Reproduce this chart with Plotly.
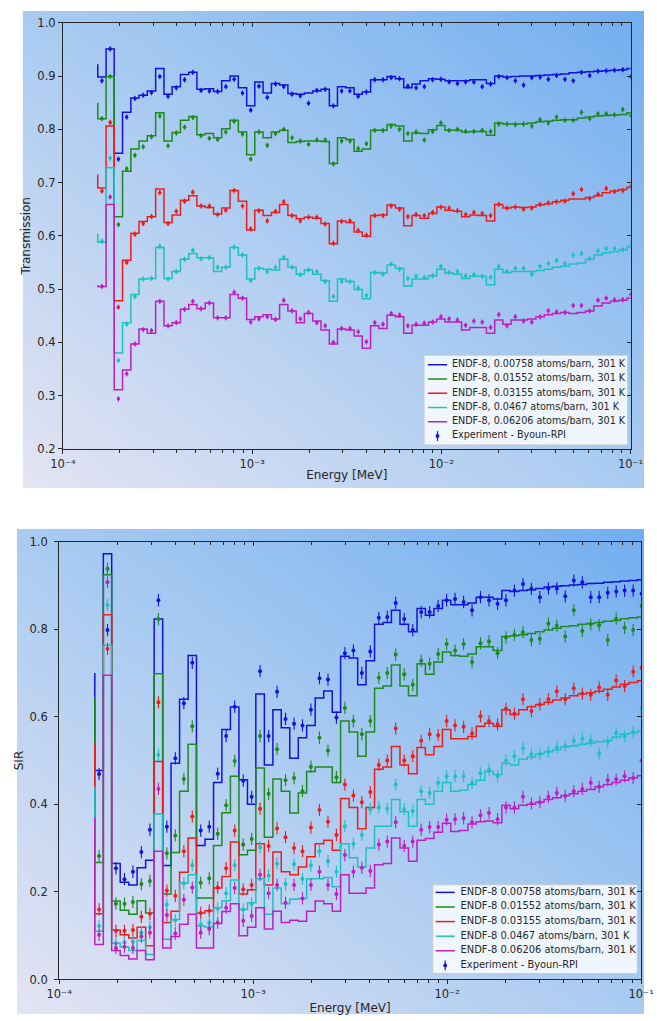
import base64
import plotly.graph_objects as go

W, H = 657, 1021

# ---------------- data ----------------
# bin edges of the energy grid (log10 of MeV), shared by both panels
edges_log = [-3.816, -3.772, -3.729, -3.685, -3.641, -3.598, -3.554, -3.510, -3.466, -3.423,
             -3.379, -3.335, -3.292, -3.248, -3.204, -3.161, -3.117, -3.073, -3.029, -2.986,
             -2.942, -2.898, -2.855, -2.811, -2.767, -2.724, -2.680, -2.636, -2.592, -2.549,
             -2.505, -2.461, -2.418, -2.374, -2.330, -2.287, -2.243, -2.199, -2.155, -2.112,
             -2.068, -2.024, -1.981, -1.937, -1.893, -1.850, -1.806, -1.762, -1.718, -1.675,
             -1.631, -1.587, -1.544, -1.500, -1.456, -1.413, -1.369, -1.325, -1.281, -1.238,
             -1.194, -1.150, -1.107, -1.063, -1.019, -0.976]

labels_T = ["ENDF-8, 0.00758 atoms/barn, 301 K", "ENDF-8, 0.01552 atoms/barn, 301 K",
            "ENDF-8, 0.03155 atoms/barn, 301 K", "ENDF-8, 0.0467 atoms/barn, 301 K",
            "ENDF-8, 0.06206 atoms/barn, 301 K"]
labels_S = ["ENDF-8 0.00758 atoms/barn, 301 K", "ENDF-8 0.01552 atoms/barn, 301 K",
            "ENDF-8 0.03155 atoms/barn, 301 K", "ENDF-8 0.0467 atoms/barn, 301 K",
            "ENDF-8 0.06206 atoms/barn, 301 K"]
exp_label = "Experiment - Byoun-RPI"

# ---- Transmission panel ----
hook_T = [0.922, 0.850, 0.715, 0.604, 0.507]
blue_T_line = [0.898, 0.951, 0.755, 0.832, 0.859, 0.864, 0.872, 0.914, 0.866, 0.880,
               0.903, 0.907, 0.875, 0.876, 0.871, 0.891, 0.900, 0.878, 0.844, 0.889,
               0.868, 0.886, 0.883, 0.867, 0.866, 0.868, 0.872, 0.875, 0.844, 0.880,
               0.878, 0.866, 0.870, 0.893, 0.893, 0.899, 0.895, 0.878, 0.885, 0.891,
               0.895, 0.894, 0.891, 0.891, 0.891, 0.893, 0.893, 0.886, 0.900, 0.898,
               0.899, 0.900, 0.900, 0.901, 0.902, 0.903, 0.904, 0.906, 0.907, 0.908,
               0.909, 0.910, 0.911, 0.912, 0.914]
blue_T_pts = [0.891, 0.951, 0.744, 0.823, 0.858, 0.864, 0.869, 0.899, 0.862, 0.878,
              0.893, 0.907, 0.873, 0.872, 0.871, 0.880, 0.894, 0.868, 0.836, 0.881,
              0.860, 0.885, 0.880, 0.866, 0.863, 0.849, 0.873, 0.875, 0.844, 0.872,
              0.872, 0.862, 0.870, 0.893, 0.893, 0.897, 0.895, 0.881, 0.878, 0.880,
              0.893, 0.894, 0.889, 0.886, 0.889, 0.889, 0.880, 0.885, 0.899, 0.897,
              0.891, 0.883, 0.897, 0.898, 0.894, 0.901, 0.894, 0.891, 0.907, 0.901,
              0.909, 0.910, 0.911, 0.912, 0.899]
green_T_line = [0.820, 0.899, 0.636, 0.721, 0.763, 0.778, 0.788, 0.831, 0.778, 0.794,
                0.817, 0.824, 0.790, 0.792, 0.784, 0.801, 0.817, 0.795, 0.752, 0.795,
                0.784, 0.795, 0.798, 0.775, 0.777, 0.778, 0.778, 0.777, 0.736, 0.784,
                0.781, 0.759, 0.763, 0.798, 0.798, 0.809, 0.806, 0.778, 0.793, 0.792,
                0.799, 0.807, 0.798, 0.798, 0.795, 0.796, 0.796, 0.789, 0.812, 0.810,
                0.810, 0.810, 0.812, 0.814, 0.815, 0.817, 0.818, 0.818, 0.821, 0.823,
                0.825, 0.826, 0.827, 0.828, 0.831]
green_T_pts = [0.820, 0.899, 0.621, 0.726, 0.751, 0.767, 0.786, 0.825, 0.769, 0.793,
               0.804, 0.822, 0.788, 0.783, 0.781, 0.795, 0.815, 0.791, 0.744, 0.795,
               0.770, 0.792, 0.800, 0.784, 0.778, 0.772, 0.780, 0.780, 0.735, 0.778,
               0.778, 0.764, 0.773, 0.798, 0.798, 0.806, 0.800, 0.792, 0.795, 0.780,
               0.796, 0.812, 0.798, 0.800, 0.796, 0.796, 0.798, 0.796, 0.810, 0.810,
               0.809, 0.810, 0.806, 0.818, 0.812, 0.823, 0.817, 0.817, 0.832, 0.820,
               0.829, 0.829, 0.827, 0.837, 0.826]
red_T_line = [0.690, 0.806, 0.478, 0.554, 0.605, 0.627, 0.636, 0.688, 0.625, 0.639,
              0.667, 0.675, 0.656, 0.653, 0.641, 0.652, 0.685, 0.665, 0.611, 0.648,
              0.638, 0.644, 0.659, 0.638, 0.632, 0.635, 0.633, 0.623, 0.585, 0.628,
              0.625, 0.607, 0.599, 0.638, 0.639, 0.658, 0.652, 0.619, 0.638, 0.633,
              0.642, 0.654, 0.648, 0.646, 0.636, 0.639, 0.638, 0.628, 0.659, 0.652,
              0.654, 0.653, 0.654, 0.658, 0.660, 0.664, 0.667, 0.669, 0.669, 0.672,
              0.675, 0.681, 0.684, 0.687, 0.691]
red_T_pts = [0.684, 0.813, 0.466, 0.550, 0.603, 0.623, 0.636, 0.681, 0.623, 0.646,
             0.665, 0.682, 0.656, 0.656, 0.640, 0.648, 0.685, 0.656, 0.613, 0.647,
             0.628, 0.646, 0.664, 0.638, 0.628, 0.635, 0.635, 0.622, 0.586, 0.627,
             0.628, 0.610, 0.601, 0.638, 0.638, 0.656, 0.650, 0.636, 0.640, 0.638,
             0.644, 0.654, 0.652, 0.647, 0.640, 0.644, 0.642, 0.638, 0.659, 0.652,
             0.654, 0.650, 0.652, 0.659, 0.662, 0.664, 0.665, 0.679, 0.687, 0.670,
             0.678, 0.689, 0.683, 0.685, 0.693]
cyan_T_line = [0.588, 0.728, 0.380, 0.437, 0.490, 0.519, 0.520, 0.578, 0.520, 0.533,
               0.556, 0.567, 0.559, 0.559, 0.533, 0.541, 0.578, 0.564, 0.519, 0.539,
               0.537, 0.536, 0.556, 0.541, 0.528, 0.536, 0.528, 0.516, 0.477, 0.519,
               0.514, 0.499, 0.482, 0.531, 0.530, 0.545, 0.539, 0.506, 0.519, 0.519,
               0.525, 0.537, 0.530, 0.528, 0.520, 0.524, 0.524, 0.508, 0.537, 0.531,
               0.533, 0.533, 0.533, 0.535, 0.537, 0.541, 0.543, 0.547, 0.549, 0.556,
               0.564, 0.568, 0.570, 0.574, 0.579]
cyan_T_pts = [0.590, 0.746, 0.366, 0.434, 0.486, 0.519, 0.520, 0.580, 0.519, 0.533,
              0.556, 0.573, 0.557, 0.559, 0.541, 0.541, 0.579, 0.564, 0.516, 0.539,
              0.533, 0.541, 0.559, 0.541, 0.527, 0.536, 0.533, 0.514, 0.486, 0.514,
              0.514, 0.502, 0.488, 0.531, 0.528, 0.547, 0.537, 0.520, 0.524, 0.522,
              0.525, 0.543, 0.531, 0.533, 0.525, 0.527, 0.524, 0.522, 0.543, 0.533,
              0.539, 0.539, 0.528, 0.543, 0.548, 0.554, 0.548, 0.564, 0.567, 0.557,
              0.572, 0.576, 0.576, 0.574, 0.582]
magenta_T_line = [0.505, 0.659, 0.311, 0.348, 0.397, 0.425, 0.417, 0.477, 0.431, 0.437,
                  0.462, 0.471, 0.463, 0.474, 0.446, 0.446, 0.490, 0.483, 0.443, 0.448,
                  0.452, 0.444, 0.471, 0.459, 0.437, 0.454, 0.440, 0.423, 0.397, 0.425,
                  0.423, 0.412, 0.389, 0.431, 0.426, 0.451, 0.448, 0.417, 0.432, 0.432,
                  0.438, 0.444, 0.438, 0.438, 0.423, 0.428, 0.428, 0.417, 0.442, 0.434,
                  0.442, 0.442, 0.444, 0.448, 0.452, 0.454, 0.456, 0.454, 0.456, 0.459,
                  0.468, 0.474, 0.477, 0.479, 0.483]
magenta_T_pts = [0.505, 0.673, 0.294, 0.341, 0.397, 0.424, 0.422, 0.477, 0.431, 0.437,
                 0.462, 0.477, 0.463, 0.474, 0.446, 0.446, 0.494, 0.483, 0.438, 0.444,
                 0.448, 0.443, 0.479, 0.459, 0.444, 0.456, 0.437, 0.431, 0.400, 0.426,
                 0.426, 0.420, 0.401, 0.437, 0.434, 0.454, 0.451, 0.431, 0.434, 0.436,
                 0.438, 0.448, 0.444, 0.442, 0.432, 0.440, 0.438, 0.428, 0.452, 0.431,
                 0.448, 0.440, 0.438, 0.448, 0.459, 0.457, 0.456, 0.469, 0.469, 0.459,
                 0.479, 0.483, 0.480, 0.480, 0.490]

# ---- SIR panel ----
hook_S = [0.700, 0.645, 0.540, 0.440, 0.370]
blue_S_line = [0.477, 0.972, 0.265, 0.222, 0.216, 0.255, 0.272, 0.823, 0.260, 0.494,
               0.640, 0.740, 0.306, 0.320, 0.450, 0.571, 0.622, 0.456, 0.400, 0.652,
               0.490, 0.616, 0.575, 0.505, 0.552, 0.580, 0.643, 0.659, 0.610, 0.738,
               0.734, 0.673, 0.728, 0.811, 0.815, 0.843, 0.811, 0.794, 0.847, 0.832,
               0.847, 0.866, 0.856, 0.856, 0.860, 0.873, 0.873, 0.869, 0.888, 0.886,
               0.888, 0.890, 0.893, 0.896, 0.898, 0.899, 0.901, 0.902, 0.904, 0.905,
               0.907, 0.908, 0.910, 0.911, 0.913]
blue_S_pts = [0.469, 0.798, 0.254, 0.229, 0.246, 0.291, 0.342, 0.866, 0.349, 0.505,
              0.631, 0.723, 0.340, 0.349, 0.470, 0.556, 0.623, 0.454, 0.417, 0.704,
              0.556, 0.657, 0.595, 0.584, 0.580, 0.616, 0.688, 0.685, 0.598, 0.745,
              0.751, 0.700, 0.749, 0.826, 0.828, 0.860, 0.823, 0.798, 0.839, 0.839,
              0.853, 0.866, 0.869, 0.862, 0.843, 0.873, 0.866, 0.858, 0.866, 0.888,
              0.903, 0.892, 0.873, 0.893, 0.893, 0.875, 0.911, 0.907, 0.873, 0.873,
              0.883, 0.886, 0.888, 0.888, 0.881]
green_S_line = [0.267, 0.924, 0.179, 0.158, 0.149, 0.180, 0.152, 0.698, 0.195, 0.290,
                0.430, 0.537, 0.186, 0.186, 0.306, 0.381, 0.464, 0.285, 0.295, 0.483,
                0.325, 0.458, 0.430, 0.380, 0.426, 0.475, 0.485, 0.485, 0.450, 0.590,
                0.565, 0.510, 0.565, 0.665, 0.670, 0.718, 0.670, 0.648, 0.721, 0.697,
                0.725, 0.748, 0.740, 0.738, 0.743, 0.760, 0.760, 0.751, 0.783, 0.785,
                0.787, 0.790, 0.794, 0.798, 0.802, 0.806, 0.808, 0.811, 0.813, 0.815,
                0.818, 0.820, 0.824, 0.826, 0.828]
green_S_pts = [0.282, 0.938, 0.173, 0.173, 0.177, 0.218, 0.225, 0.823, 0.288, 0.329,
               0.458, 0.578, 0.221, 0.231, 0.333, 0.398, 0.499, 0.308, 0.321, 0.556,
               0.424, 0.526, 0.455, 0.460, 0.430, 0.486, 0.552, 0.523, 0.462, 0.620,
               0.590, 0.560, 0.590, 0.689, 0.700, 0.742, 0.697, 0.673, 0.728, 0.721,
               0.743, 0.766, 0.751, 0.766, 0.725, 0.768, 0.772, 0.745, 0.781, 0.787,
               0.793, 0.775, 0.778, 0.813, 0.808, 0.783, 0.843, 0.796, 0.811, 0.809,
               0.775, 0.824, 0.803, 0.798, 0.853]
red_S_line = [0.150, 0.833, 0.113, 0.102, 0.095, 0.119, 0.077, 0.498, 0.130, 0.156,
              0.245, 0.323, 0.152, 0.157, 0.209, 0.235, 0.314, 0.195, 0.205, 0.310,
              0.216, 0.291, 0.246, 0.239, 0.257, 0.280, 0.310, 0.318, 0.295, 0.413,
              0.393, 0.344, 0.393, 0.480, 0.485, 0.532, 0.490, 0.470, 0.530, 0.513,
              0.532, 0.571, 0.550, 0.550, 0.555, 0.578, 0.585, 0.578, 0.616, 0.605,
              0.616, 0.623, 0.628, 0.633, 0.638, 0.643, 0.648, 0.652, 0.655, 0.658,
              0.663, 0.668, 0.674, 0.678, 0.682]
red_S_pts = [0.160, 0.755, 0.111, 0.111, 0.113, 0.143, 0.150, 0.633, 0.203, 0.191,
             0.293, 0.372, 0.152, 0.157, 0.210, 0.254, 0.340, 0.206, 0.216, 0.390,
             0.305, 0.345, 0.325, 0.300, 0.293, 0.347, 0.387, 0.360, 0.330, 0.445,
             0.420, 0.405, 0.428, 0.490, 0.500, 0.573, 0.500, 0.510, 0.545, 0.560,
             0.558, 0.590, 0.580, 0.577, 0.562, 0.601, 0.590, 0.583, 0.618, 0.607,
             0.640, 0.613, 0.628, 0.640, 0.658, 0.640, 0.665, 0.653, 0.650, 0.667,
             0.650, 0.683, 0.670, 0.703, 0.712]
cyan_S_line = [0.110, 0.763, 0.083, 0.074, 0.066, 0.089, 0.057, 0.378, 0.092, 0.137,
               0.220, 0.239, 0.122, 0.120, 0.164, 0.180, 0.227, 0.160, 0.175, 0.230,
               0.149, 0.209, 0.173, 0.183, 0.185, 0.230, 0.230, 0.233, 0.212, 0.310,
               0.278, 0.257, 0.300, 0.350, 0.350, 0.411, 0.383, 0.350, 0.411, 0.400,
               0.430, 0.450, 0.430, 0.432, 0.445, 0.455, 0.475, 0.468, 0.494, 0.490,
               0.503, 0.508, 0.515, 0.520, 0.524, 0.531, 0.533, 0.537, 0.540, 0.543,
               0.546, 0.554, 0.560, 0.563, 0.567]
cyan_S_pts = [0.122, 0.855, 0.083, 0.085, 0.087, 0.107, 0.120, 0.513, 0.171, 0.135,
              0.220, 0.261, 0.126, 0.130, 0.162, 0.197, 0.261, 0.160, 0.173, 0.302,
              0.237, 0.265, 0.218, 0.263, 0.230, 0.260, 0.293, 0.270, 0.246, 0.350,
              0.310, 0.330, 0.389, 0.393, 0.390, 0.445, 0.389, 0.385, 0.430, 0.426,
              0.449, 0.464, 0.464, 0.464, 0.449, 0.471, 0.479, 0.464, 0.500, 0.510,
              0.528, 0.515, 0.515, 0.520, 0.530, 0.533, 0.545, 0.550, 0.546, 0.516,
              0.543, 0.563, 0.555, 0.565, 0.618]
magenta_S_line = [0.080, 0.695, 0.066, 0.055, 0.047, 0.066, 0.045, 0.293, 0.072, 0.098,
                  0.126, 0.149, 0.072, 0.072, 0.128, 0.155, 0.173, 0.100, 0.119, 0.164,
                  0.115, 0.156, 0.130, 0.135, 0.133, 0.156, 0.179, 0.173, 0.156, 0.239,
                  0.197, 0.197, 0.209, 0.262, 0.265, 0.323, 0.300, 0.270, 0.318, 0.322,
                  0.336, 0.357, 0.338, 0.340, 0.355, 0.360, 0.362, 0.358, 0.398, 0.390,
                  0.398, 0.400, 0.405, 0.411, 0.415, 0.420, 0.424, 0.430, 0.434, 0.440,
                  0.445, 0.450, 0.455, 0.460, 0.465]
magenta_S_pts = [0.102, 0.907, 0.072, 0.075, 0.072, 0.098, 0.107, 0.435, 0.147, 0.105,
                 0.182, 0.210, 0.107, 0.115, 0.130, 0.164, 0.209, 0.134, 0.145, 0.239,
                 0.197, 0.216, 0.175, 0.216, 0.185, 0.216, 0.246, 0.216, 0.195, 0.284,
                 0.246, 0.255, 0.248, 0.308, 0.315, 0.359, 0.305, 0.315, 0.342, 0.348,
                 0.348, 0.365, 0.366, 0.368, 0.359, 0.375, 0.380, 0.366, 0.393, 0.393,
                 0.417, 0.402, 0.405, 0.417, 0.426, 0.419, 0.430, 0.435, 0.449, 0.440,
                 0.455, 0.457, 0.464, 0.460, 0.500]

err_T = 0.005
err_S = 0.014

x_major = [1e-4, 1e-3, 1e-2, 1e-1]
x_major_text = ["10\u207b\u2074", "10\u207b\u00b3", "10\u207b\u00b2", "10\u207b\u00b9"]
x_minor = [m * d for d in (1e-4, 1e-3, 1e-2) for m in range(2, 10)]
yT_ticks = [0.2, 0.3, 0.4, 0.5, 0.6, 0.7, 0.8, 0.9, 1.0]
yS_ticks = [0.0, 0.2, 0.4, 0.6, 0.8, 1.0]

colors = ["#1212e0", "#1c8a1c", "#ee1c1c", "#1ec0c0", "#c01ec0"]

lines_T = [blue_T_line, green_T_line, red_T_line, cyan_T_line, magenta_T_line]
pts_T = [blue_T_pts, green_T_pts, red_T_pts, cyan_T_pts, magenta_T_pts]
lines_S = [blue_S_line, green_S_line, red_S_line, cyan_S_line, magenta_S_line]
pts_S = [blue_S_pts, green_S_pts, red_S_pts, cyan_S_pts, magenta_S_pts]
nbin = len(edges_log) - 1
for arr in lines_T + pts_T + lines_S + pts_S:
    assert len(arr) == nbin, len(arr)

energy_edges = [10 ** v for v in edges_log]
energy_centers = [10 ** ((a + b) / 2) for a, b in zip(edges_log[:-1], edges_log[1:])]

# ---------------- helpers ----------------
def PX(x):
    return x / W

def PY(y):
    return 1 - y / H

FONT = "DejaVu Sans"
AX = "#262626"

fig = go.Figure()

def add_panel(xa, ya, hooks, lines, pts, err, msize):
    for c, hk, ln in zip(colors, hooks, lines):
        fig.add_trace(go.Scatter(
            x=energy_edges, y=[hk] + ln, mode="lines", line=dict(color=c, width=1.5, shape="vh"),
            xaxis=xa, yaxis=ya, showlegend=False, hoverinfo="skip"))
    for c, pt in zip(colors, pts):
        fig.add_trace(go.Scatter(
            x=energy_centers, y=pt, mode="markers",
            marker=dict(color=c, size=msize, line=dict(width=0)),
            error_y=dict(type="constant", value=err, color=c, thickness=1.1, width=0),
            xaxis=xa, yaxis=ya, showlegend=False, hoverinfo="skip"))

add_panel("x", "y", hook_T, lines_T, pts_T, err_T, 3.6)
add_panel("x2", "y2", hook_S, lines_S, pts_S, err_S, 4)

# invisible anchors so the mirrored tick axes are drawn
for xa, ya in (("x3", "y"), ("x", "y3"), ("x4", "y2"), ("x2", "y4")):
    fig.add_trace(go.Scatter(x=[1e-3], y=[0.5], mode="markers", marker=dict(opacity=0),
                             xaxis=xa, yaxis=ya, showlegend=False, hoverinfo="skip"))

tickfont = dict(family=FONT, size=11.5, color=AX)
title_font = dict(family=FONT, size=12, color=AX)

def xcfg(domain, anchor, mirror=False, overlay=None, title=None, standoff=0):
    d = dict(type="log", range=[-4, -1], showline=True, linecolor=AX, linewidth=1,
             showgrid=False, zeroline=False, tickvals=x_major, ticklen=4, tickwidth=1,
             tickcolor=AX, tickfont=tickfont,
             minor=dict(tickvals=x_minor, ticklen=3, tickwidth=0.8, tickcolor=AX,
                        ticks="inside" if mirror else "outside", showgrid=False))
    if mirror:
        d.update(overlaying=overlay, side="top", anchor=anchor, ticks="inside",
                 showticklabels=False)
    else:
        d.update(domain=domain, anchor=anchor, ticks="outside", ticktext=x_major_text,
                 tickmode="array",
                 title=dict(text=title, font=title_font, standoff=standoff))
    return d

def ycfg(domain, anchor, rng, ticks, fmt, mirror=False, overlay=None, title=None,
         standoff=0, labelgap=0):
    d = dict(range=rng, showline=True, linecolor=AX, linewidth=1, showgrid=False,
             zeroline=False, tickvals=ticks, ticklen=4, tickwidth=1, tickcolor=AX,
             tickfont=tickfont)
    if mirror:
        d.update(overlaying=overlay, side="right", anchor=anchor, ticks="inside",
                 showticklabels=False)
    else:
        d.update(domain=domain, anchor=anchor, ticks="outside",
                 ticktext=[fmt.format(t) for t in ticks], ticklabelstandoff=labelgap,
                 title=dict(text=title, font=title_font, standoff=standoff))
    return d

top_x = [PX(52), PX(643)]
top_y = [PY(448), PY(16)]
bot_x = [PX(48), PX(654)]
bot_y = [PY(986), PY(542)]

fig.update_layout(
    xaxis=xcfg(top_x, "y", title="Energy [MeV]", standoff=0),
    yaxis=ycfg(top_y, "x", [0.2, 1.0], yT_ticks, "{:.1f}", title="Transmission", standoff=4),
    xaxis3=xcfg(None, "y", mirror=True, overlay="x"),
    yaxis3=ycfg(None, "x", [0.2, 1.0], yT_ticks, "{:.1f}", mirror=True, overlay="y"),
    xaxis2=xcfg(bot_x, "y2", title="Energy [MeV]", standoff=3),
    yaxis2=ycfg(bot_y, "x2", [0.0, 1.0], yS_ticks, "{:.1f}", title="SIR", standoff=3,
                labelgap=4),
    xaxis4=xcfg(None, "y2", mirror=True, overlay="x2"),
    yaxis4=ycfg(None, "x2", [0.0, 1.0], yS_ticks, "{:.1f}", mirror=True, overlay="y2"),
    # full-figure pixel frame used for the legend texts
    xaxis5=dict(domain=[0, 1], range=[0, W], visible=False, anchor="y5", fixedrange=True),
    yaxis5=dict(domain=[0, 1], range=[H, 0], visible=False, anchor="x5", fixedrange=True),
)

# ---------------- background gradients ----------------
svg = ("<svg xmlns='http://www.w3.org/2000/svg' width='100' height='100' viewBox='0 0 100 100' "
       "preserveAspectRatio='none'><defs><linearGradient id='g' x1='0' y1='1' x2='1' y2='0'>"
       "<stop offset='0' stop-color='#e4e4f3'/><stop offset='0.5' stop-color='#a9cbf1'/>"
       "<stop offset='1' stop-color='#72aef0'/></linearGradient></defs>"
       "<rect width='100' height='100' fill='url(#g)'/></svg>")
bg_uri = "data:image/svg+xml;base64," + base64.b64encode(svg.encode()).decode()

images = [
    dict(source=bg_uri, xref="paper", yref="paper", x=PX(10), y=PY(4),
         sizex=PX(657) - PX(10), sizey=(488 - 4) / H, xanchor="left", yanchor="top",
         sizing="stretch", layer="below"),
    dict(source=bg_uri, xref="paper", yref="paper", x=PX(4), y=PY(529),
         sizex=PX(657) - PX(4), sizey=(1021 - 529) / H, xanchor="left", yanchor="top",
         sizing="stretch", layer="below"),
]

# ---------------- hand-drawn legends ----------------
shapes = []

def legend(box, line_x, text_x, rows, labels, fsize):
    x0, y0, x1, y1 = box
    shapes.append(dict(type="rect", xref="paper", yref="paper", x0=PX(x0), x1=PX(x1),
                       y0=PY(y1), y1=PY(y0), fillcolor="rgba(255,255,255,0.82)",
                       line=dict(color="rgba(200,200,200,0.9)", width=1), layer="below"))
    for c, ry in zip(colors, rows):
        shapes.append(dict(type="line", xref="paper", yref="paper", x0=PX(line_x[0]),
                           x1=PX(line_x[1]), y0=PY(ry), y1=PY(ry),
                           line=dict(color=c, width=1.5), layer="above"))
    ry = rows[5]
    cx = (line_x[0] + line_x[1]) / 2
    shapes.append(dict(type="line", xref="paper", yref="paper", x0=PX(cx), x1=PX(cx),
                       y0=PY(ry - 5), y1=PY(ry + 5), line=dict(color=colors[0], width=1.2),
                       layer="above"))
    shapes.append(dict(type="circle", xref="paper", yref="paper", x0=PX(cx - 2), x1=PX(cx + 2),
                       y0=PY(ry + 2), y1=PY(ry - 2), fillcolor=colors[0],
                       line=dict(width=0), layer="above"))
    fig.add_trace(go.Scatter(
        x=[text_x] * 6, y=rows, mode="text", text=labels + [exp_label],
        textposition="middle right", textfont=dict(family=FONT, size=fsize, color=AX),
        xaxis="x5", yaxis="y5", showlegend=False, hoverinfo="skip", cliponaxis=False))

legend((428, 353, 640, 444), (432, 452), 457, [362.7, 377.2, 391.6, 406.1, 420.5, 435.0],
       labels_T, 9.6)
legend((437, 890, 650, 980), (440, 460), 466, [897.7, 912.5, 927.3, 942.1, 956.9, 971.7],
       labels_S, 9.9)

fig.update_layout(
    width=W, height=H, autosize=False, margin=dict(l=0, r=0, t=0, b=0),
    paper_bgcolor="white", plot_bgcolor="rgba(0,0,0,0)",
    images=images, shapes=shapes, showlegend=False,
    font=dict(family=FONT, color=AX),
)

fig.write_html("out.html")
